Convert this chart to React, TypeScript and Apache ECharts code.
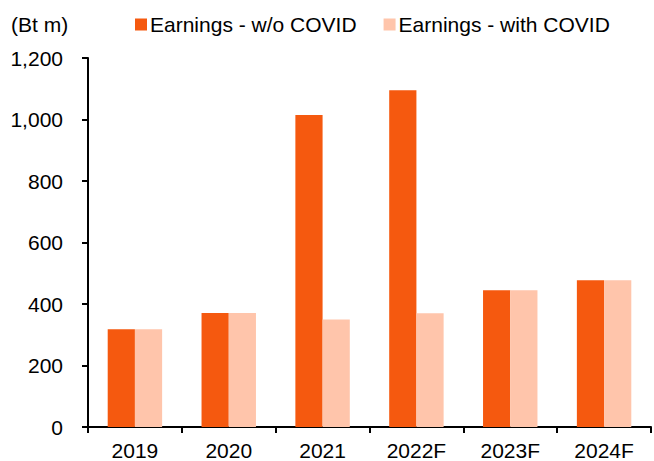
import React, { useEffect, useRef } from "react";
import * as echarts from "echarts";

const categories = ["2019", "2020", "2021", "2022F", "2023F", "2024F"];
const withoutCovid = [318, 371, 1015, 1095, 445, 477];
const withCovid = [318, 371, 350, 370, 445, 477];
const yTicks = [0, 200, 400, 600, 800, 1000, 1200];
const unitLabel = "(Bt m)";
const seriesNames = ["Earnings - w/o COVID", "Earnings - with COVID"];

const FONT = "'Liberation Sans', Arial, sans-serif";

export default function App() {
  const ref = useRef<HTMLDivElement>(null);
  useEffect(() => {
    if (!ref.current) return;
    const chart = echarts.init(ref.current, undefined, { renderer: "svg" });
    chart.setOption({
      animation: false,
      backgroundColor: "#ffffff",
      textStyle: { fontFamily: FONT },
      graphic: [
        {
          type: "text",
          left: 11,
          top: 14,
          style: { text: unitLabel, font: `21px ${FONT}`, fill: "#000" },
        },
      ],
      legend: {
        top: 14,
        left: 135,
        padding: 0,
        itemWidth: 12,
        itemHeight: 12,
        itemGap: 27,
        icon: "rect",
        textStyle: { fontSize: 21, color: "#000", fontFamily: FONT, padding: [0, 0, 0, -2] },
        data: seriesNames,
      },
      grid: { left: 88, right: 3, top: 58, bottom: 33, containLabel: false },
      xAxis: {
        type: "category",
        data: categories,
        axisLine: { lineStyle: { color: "#000", width: 2 } },
        axisTick: { show: true, alignWithLabel: false, length: 6, lineStyle: { color: "#000", width: 2 } },
        axisLabel: { color: "#000", fontSize: 21, margin: 13, fontFamily: FONT },
      },
      yAxis: {
        type: "value",
        min: yTicks[0],
        max: yTicks[yTicks.length - 1],
        interval: 200,
        splitLine: { show: false },
        axisLine: { show: true, lineStyle: { color: "#000", width: 2 } },
        axisTick: { show: true, inside: false, length: 6, lineStyle: { color: "#000", width: 2 } },
        axisLabel: {
          color: "#000",
          fontSize: 21,
          margin: 25,
          fontFamily: FONT,
          formatter: (v: number) => v.toLocaleString("en-US"),
        },
      },
      series: [
        {
          name: seriesNames[0],
          type: "bar",
          data: withoutCovid,
          barGap: "0%",
          barCategoryGap: "42%",
          itemStyle: { color: "#F5590F" },
        },
        {
          name: seriesNames[1],
          type: "bar",
          data: withCovid,
          barGap: "0%",
          barCategoryGap: "42%",
          itemStyle: { color: "#FFC5AB" },
        },
      ],
    });
    return () => chart.dispose();
  }, []);
  return <div ref={ref} style={{ width: 654, height: 461, position: "absolute", left: 0, top: 0 }} />;
}
